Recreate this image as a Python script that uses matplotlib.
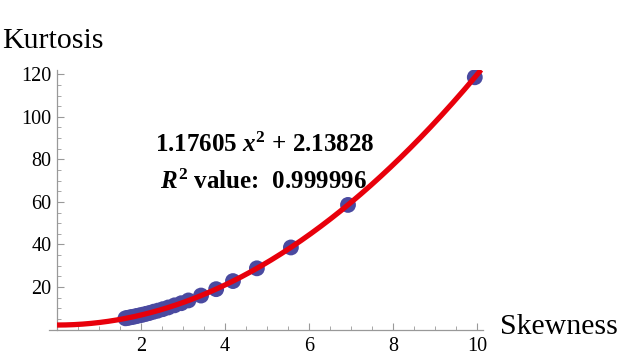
import numpy as np
import matplotlib
matplotlib.use("Agg")
import matplotlib.pyplot as plt
from matplotlib.ticker import MultipleLocator

skewness = [1.63, 1.68, 1.73, 1.78, 1.84, 1.90, 1.97, 2.04, 2.12, 2.20, 2.30, 2.40,
            2.52, 2.65, 2.80, 2.96, 3.13, 3.43, 3.79, 4.19, 4.76, 5.57, 6.93, 9.95]
kurtosis = [5.3, 5.5, 5.7, 5.9, 6.1, 6.4, 6.7, 7.0, 7.4, 7.8, 8.4, 8.9,
            9.6, 10.4, 11.4, 12.4, 13.7, 16.0, 19.0, 22.8, 28.8, 38.6, 58.6, 118.6]
coef_a = 1.17605
coef_b = 2.13828
r2 = 0.999996
x_ticks = [2, 4, 6, 8, 10]
y_ticks = [20, 40, 60, 80, 100, 120]

SERIF = 'Liberation Serif'
plt.rcParams['font.family'] = 'serif'
plt.rcParams['font.serif'] = [SERIF, 'DejaVu Serif']
plt.rcParams['mathtext.fontset'] = 'custom'
plt.rcParams['mathtext.rm'] = SERIF + ':bold'
plt.rcParams['mathtext.it'] = SERIF + ':italic:bold'
plt.rcParams['mathtext.bf'] = SERIF + ':bold'

fig = plt.figure(figsize=(6.4, 3.57), dpi=100)
ax = fig.add_axes([0.076, 0.0768, 0.679, 0.727])

xs = np.linspace(0, 10.1, 300)
ax.plot(xs, coef_a * xs**2 + coef_b, color='#e8000b', lw=3.8, zorder=3, solid_capstyle='butt')
ax.scatter(skewness, kurtosis, s=130, color='#4a4aa0', zorder=2, edgecolors='none')

ax.set_xlim(-0.2, 10.15)
ax.set_ylim(0, 122)
for s in ['top', 'right']:
    ax.spines[s].set_visible(False)
ax.spines['left'].set_position(('data', 0))
for s in ['left', 'bottom']:
    ax.spines[s].set_color('#999999')
    ax.spines[s].set_linewidth(0.9)

ax.set_xticks(x_ticks)
ax.set_yticks(y_ticks)
ax.xaxis.set_minor_locator(MultipleLocator(0.5))
ax.yaxis.set_minor_locator(MultipleLocator(5))
ax.tick_params(which='both', direction='in', colors='#999999', labelcolor='black', labelsize=14.5)
ax.tick_params(which='major', length=5, width=0.8)
ax.tick_params(which='minor', length=3, width=0.6)
ax.tick_params(axis='x', pad=5)
ax.tick_params(axis='y', pad=4)
for lab in ax.get_xticklabels() + ax.get_yticklabels():
    lab.set_fontfamily(SERIF)

fig.text(0.003, 0.885, 'Kurtosis', fontsize=21.5, ha='left', va='center', family=SERIF)
fig.text(0.781, 0.084, 'Skewness', fontsize=21.5, ha='left', va='center', family=SERIF)

fig.text(0.414, 0.594, f'{coef_a} ' + r'$\mathit{x}^{2}$' + f' + {coef_b}',
         fontsize=18, ha='center', va='center', fontweight='bold', family=SERIF)
fig.text(0.411, 0.49, r'$\mathit{R}^{2}$' + f' value:  {r2}',
         fontsize=18, ha='center', va='center', fontweight='bold', family=SERIF)
fig.savefig('out.png', dpi=100)
